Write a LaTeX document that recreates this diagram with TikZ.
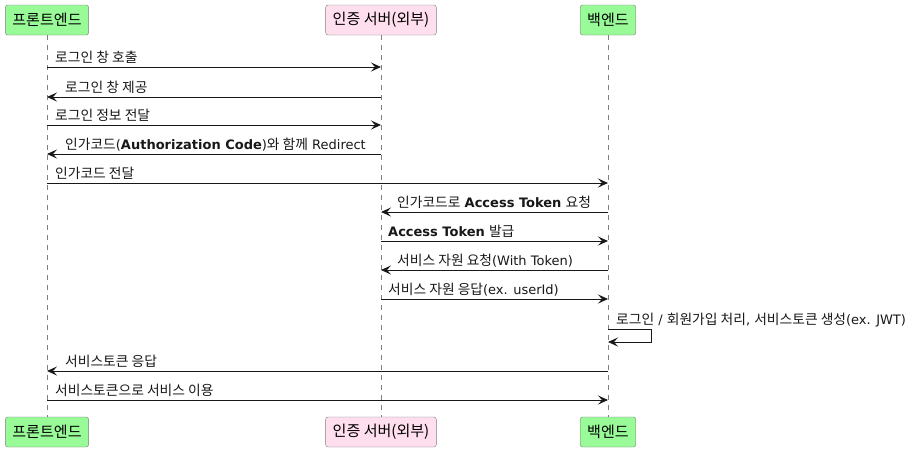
\documentclass[tikz,border=0pt]{standalone}
\usepackage{fontspec}
\setmainfont{DejaVu Sans}
\newfontfamily\kr{Noto Sans CJK KR}[Scale=1.06]
\usepackage{tikz}
\usetikzlibrary{positioning,calc,arrows.meta}
\definecolor{partgreen}{HTML}{98fb98}
\definecolor{partpink}{HTML}{ffdfee}
\definecolor{partborder}{HTML}{7f7f7f}
\definecolor{ink}{HTML}{181818}

\begin{document}
\begin{tikzpicture}[x=1pt, y=-1pt,
  part/.style={draw=partborder, rounded corners=2.5pt, minimum height=30pt, inner xsep=7pt, font=\fontsize{14.2}{16}\selectfont\kr},
  life/.style={draw=partborder, dash pattern=on 5pt off 5pt, line width=0.6pt},
  msg/.style={-{Stealth[length=10pt, width=9pt, inset=4pt]}, color=ink, line width=0.9pt},
  lbl/.style={anchor=base west, inner sep=0pt, font=\fontsize{13}{15}\selectfont, color=ink},
]
\path[use as bounding box, fill=white] (0,0) rectangle (916,453);
% participants
\node[part, fill=partgreen] (fe) at (47,20) {프론트엔드};
\node[part, fill=partpink] (as) at (381,20) {인증 서버(외부)};
\node[part, fill=partgreen] (be) at (608,20) {백엔드};
\node[part, fill=partgreen] (fe2) at (47,432) {프론트엔드};
\node[part, fill=partpink] (as2) at (381,432) {인증 서버(외부)};
\node[part, fill=partgreen] (be2) at (608,432) {백엔드};
\draw[life] (fe) -- (fe2);
\draw[life] (as) -- (as2);
\draw[life] (be) -- (be2);
% messages
\node[lbl] (l1) at (55,62) {\kr 로그인 창 호출};
\draw[msg] (fe |- 0,67) -- (as |- 0,67);
\node[lbl] (l2) at (65,92) {\kr 로그인 창 제공};
\draw[msg] (as |- 0,97) -- (fe |- 0,97);
\node[lbl] (l3) at (55,120) {\kr 로그인 정보 전달};
\draw[msg] (fe |- 0,125) -- (as |- 0,125);
\node[lbl] (l4) at (65,149) {{\kr 인가코드}(\textbf{Authorization Code}){\kr 와 함께} Redirect};
\draw[msg] (as |- 0,154) -- (fe |- 0,154);
\node[lbl] (l5) at (55,178) {\kr 인가코드 전달};
\draw[msg] (fe |- 0,183) -- (be |- 0,183);
\node[lbl] (l6) at (397,207) {{\kr 인가코드로} \textbf{Access Token} {\kr 요청}};
\draw[msg] (be |- 0,212) -- (as |- 0,212);
\node[lbl] (l7) at (388,236) {\textbf{Access Token} {\kr 발급}};
\draw[msg] (as |- 0,241) -- (be |- 0,241);
\node[lbl] (l8) at (397,265) {{\kr 서비스 자원 요청}(With Token)};
\draw[msg] (be |- 0,270) -- (as |- 0,270);
\node[lbl] (l9) at (388,294) {{\kr 서비스 자원 응답}(ex. userId)};
\draw[msg] (as |- 0,299) -- (be |- 0,299);
\node[lbl] (l10) at (616,324) {{\kr 로그인} / {\kr 회원가입 처리}, {\kr 서비스토큰 생성}(ex. JWT)};
\draw[msg] (be |- 0,329) -- ++(43,0) -- ++(0,13) -- (be |- 0,342);
\node[lbl] (l11) at (65,366) {\kr 서비스토큰 응답};
\draw[msg] (be |- 0,371) -- (fe |- 0,371);
\node[lbl] (l12) at (55,395) {\kr 서비스토큰으로 서비스 이용};
\draw[msg] (fe |- 0,400) -- (be |- 0,400);
\end{tikzpicture}
\end{document}
